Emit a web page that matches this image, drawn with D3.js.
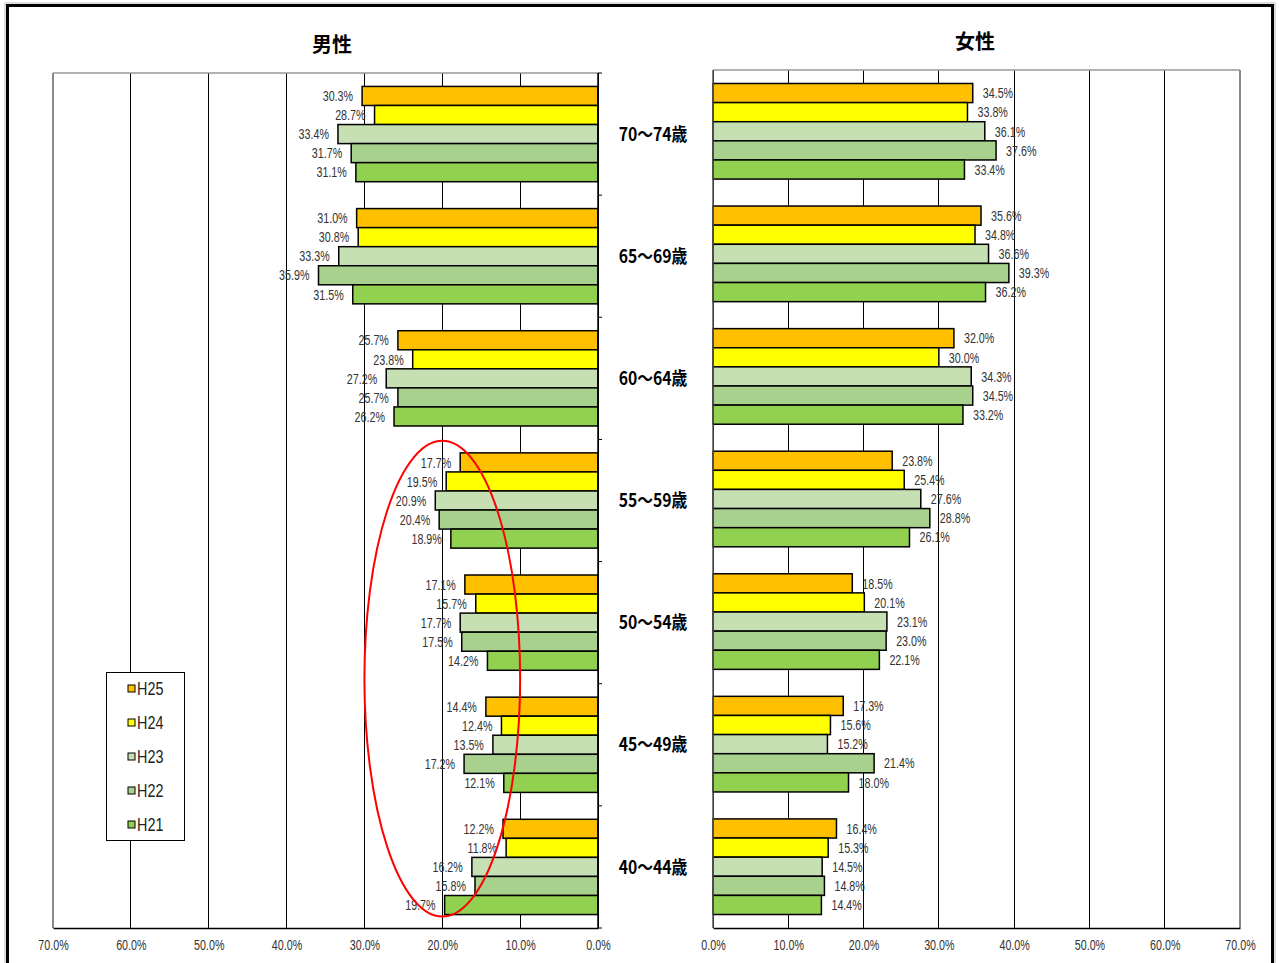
<!DOCTYPE html>
<html>
<head>
<meta charset="utf-8">
<script src="https://cdn.jsdelivr.net/npm/d3@7"></script>
<style>
  html, body { margin: 0; padding: 0; background: #fff; }
  svg { display: block; }
  .lbl { font-family: "Liberation Sans", "DejaVu Sans", sans-serif; }
</style>
</head>
<body>
<svg id="chart" width="1279" height="963"></svg>
<script>
// ---- data ----
const ageGroups = ["70～74歳", "65～69歳", "60～64歳", "55～59歳", "50～54歳", "45～49歳", "40～44歳"];
const seriesNames = ["H25", "H24", "H23", "H22", "H21"];
const seriesColors = ["#FFC000", "#FFFF00", "#C6E0B4", "#A9D18E", "#92D050"];
// values per age group, in series order H25, H24, H23, H22, H21
const maleValues = [
  [30.3, 28.7, 33.4, 31.7, 31.1],
  [31.0, 30.8, 33.3, 35.9, 31.5],
  [25.7, 23.8, 27.2, 25.7, 26.2],
  [17.7, 19.5, 20.9, 20.4, 18.9],
  [17.1, 15.7, 17.7, 17.5, 14.2],
  [14.4, 12.4, 13.5, 17.2, 12.1],
  [12.2, 11.8, 16.2, 15.8, 19.7]
];
const femaleValues = [
  [34.5, 33.8, 36.1, 37.6, 33.4],
  [35.6, 34.8, 36.6, 39.3, 36.2],
  [32.0, 30.0, 34.3, 34.5, 33.2],
  [23.8, 25.4, 27.6, 28.8, 26.1],
  [18.5, 20.1, 23.1, 23.0, 22.1],
  [17.3, 15.6, 15.2, 21.4, 18.0],
  [16.4, 15.3, 14.5, 14.8, 14.4]
];
const xTicks = [0, 10, 20, 30, 40, 50, 60, 70];
const titles = ["男性", "女性"];

// ---- drawing ----
const svg = d3.select("#chart");
const fmt = v => d3.format(".1f")(v) + "%";
const SX = 0.74; // condensed look

// outer frame
svg.append("rect").attr("x", 5).attr("y", 3).attr("width", 1270).attr("height", 980)
  .attr("fill", "none").attr("stroke", "#bbb").attr("stroke-width", 1);
svg.append("rect").attr("x", 7.5).attr("y", 5.5).attr("width", 1265).attr("height", 975)
  .attr("fill", "none").attr("stroke", "#000").attr("stroke-width", 3);

function panel(cfg) {
  const { values, x0, x1, top, bottom, dir, title, titleX, titleY } = cfg;
  const g = svg.append("g");
  const x = d3.scaleLinear().domain([0, 70]).range([x0, x1]);
  const y = d3.scaleBand().domain(ageGroups).range([top, bottom]).paddingInner(0.22).paddingOuter(0.11);
  const ys = d3.scaleBand().domain(seriesNames).range([0, y.bandwidth()]);

  // gridlines
  g.selectAll(".grid").data(xTicks).join("line")
    .attr("x1", d => x(d)).attr("x2", d => x(d))
    .attr("y1", top).attr("y2", bottom)
    .attr("stroke", d => (d === 70 ? "#888" : "#000")).attr("stroke-width", d => (d === 70 ? 1.5 : 1))
    .attr("shape-rendering", "crispEdges");
  // top border
  g.append("line").attr("x1", Math.min(x0, x1)).attr("x2", Math.max(x0, x1))
    .attr("y1", top).attr("y2", top).attr("stroke", "#999").attr("stroke-width", 1.5);
  // bottom axis
  const ax = g.append("g").attr("transform", `translate(0,${bottom})`)
    .call(d3.axisBottom(x).tickValues(xTicks).tickFormat(fmt).tickSize(0).tickPadding(12));
  ax.select(".domain").attr("stroke", "#000").attr("stroke-width", 1.5);
  ax.selectAll("text").attr("class", "lbl").attr("font-size", 14.5).attr("fill", "#333")
    .attr("transform", `scale(${SX},1)`);

  // bars
  const groups = g.selectAll(".grp").data(values).join("g")
    .attr("transform", (d, i) => `translate(0,${y(ageGroups[i])})`);
  groups.selectAll("rect").data(d => d.map((v, j) => ({ v, j }))).join("rect")
    .attr("x", d => Math.min(x(0), x(d.v)))
    .attr("width", d => Math.abs(x(d.v) - x(0)))
    .attr("y", d => ys(seriesNames[d.j]))
    .attr("height", ys.bandwidth())
    .attr("fill", d => seriesColors[d.j])
    .attr("stroke", "#000").attr("stroke-width", 1.5);
  groups.selectAll("text").data(d => d.map((v, j) => ({ v, j }))).join("text")
    .attr("class", "lbl")
    .attr("transform", d => `translate(${x(d.v) + (dir < 0 ? -9 : 10)},${ys(seriesNames[d.j]) + ys.bandwidth() / 2}) scale(${SX},1)`)
    .attr("dy", "0.36em")
    .attr("text-anchor", dir < 0 ? "end" : "start")
    .attr("font-size", 14.5).attr("fill", "#333")
    .text(d => fmt(d.v));

  // vertical axis (0 line)
  g.append("line").attr("x1", x(0)).attr("x2", x(0)).attr("y1", top).attr("y2", bottom)
    .attr("stroke", dir < 0 ? "#000" : "#555").attr("stroke-width", 1.5);
  if (dir < 0) {
    const bounds = d3.range(ageGroups.length + 1).map(i => top + i * y.step());
    g.selectAll(".ytick").data(bounds).join("line")
      .attr("x1", x(0)).attr("x2", x(0) + 4).attr("y1", d => d).attr("y2", d => d)
      .attr("stroke", "#000").attr("stroke-width", 1);
  }

  // title
  svg.append("text").attr("x", titleX).attr("y", titleY)
    .attr("text-anchor", "middle").attr("font-family", "'Noto Sans CJK JP', sans-serif")
    .attr("font-weight", "bold").attr("font-size", 20).attr("fill", "#000").text(title);
  return { x, y };
}

const male = panel({ values: maleValues, x0: 598, x1: 53, top: 73, bottom: 928, dir: -1,
  title: titles[0], titleX: 332, titleY: 52 });
const female = panel({ values: femaleValues, x0: 713, x1: 1240, top: 70, bottom: 928, dir: 1,
  title: titles[1], titleX: 975, titleY: 49 });

// age labels between panels
svg.selectAll(".age").data(ageGroups).join("text")
  .attr("transform", d => `translate(653,${male.y(d) + male.y.bandwidth() / 2}) scale(0.9,1.05)`)
  .attr("dy", "0.36em")
  .attr("text-anchor", "middle")
  .attr("font-family", "'Noto Sans CJK JP', sans-serif")
  .attr("font-weight", "bold").attr("font-size", 17.5).attr("fill", "#000")
  .text(d => d);

// legend
const lg = svg.append("g");
lg.append("rect").attr("x", 106.5).attr("y", 672.5).attr("width", 78).attr("height", 168)
  .attr("fill", "#fff").attr("stroke", "#000").attr("stroke-width", 1);
const li = lg.selectAll(".li").data(seriesNames).join("g")
  .attr("transform", (d, i) => `translate(128,${689 + i * 34})`);
li.append("rect").attr("x", 0).attr("y", -4).attr("width", 7).attr("height", 7)
  .attr("fill", (d, i) => seriesColors[i]).attr("stroke", "#000").attr("stroke-width", 1);
li.append("text").attr("class", "lbl")
  .attr("transform", "translate(9,0) scale(0.8,1)").attr("dy", "0.36em")
  .attr("font-size", 18).attr("fill", "#222").text(d => d);

// red ellipse annotation around the 40-59 male bars near 20%
const eTop = male.y(ageGroups[3]) - 12;
const eBot = male.y(ageGroups[6]) + male.y.bandwidth() + 2;
svg.append("ellipse")
  .attr("cx", male.x(20)).attr("cy", (eTop + eBot) / 2)
  .attr("rx", male.x(10) - male.x(20)).attr("ry", (eBot - eTop) / 2)
  .attr("fill", "none").attr("stroke", "#FF0000").attr("stroke-width", 2);
</script>
</body>
</html>
